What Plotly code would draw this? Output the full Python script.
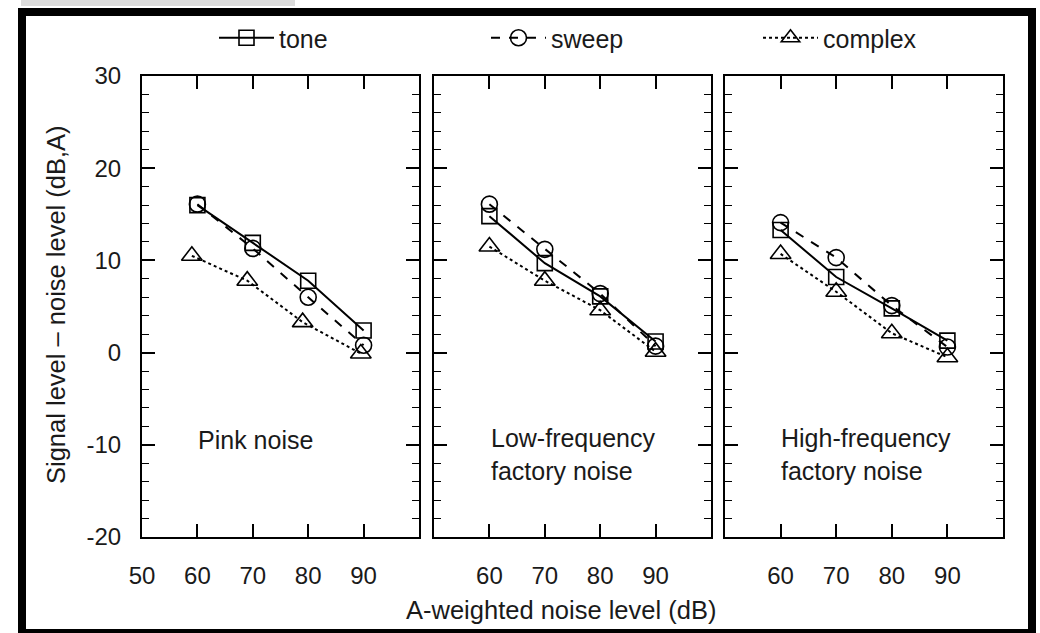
import plotly.graph_objects as go

# ---------------- data ----------------
noise_levels = [60, 70, 80, 90]
complex_x_pink = [59, 69, 79, 89.5]

panels = ["Pink noise", "Low-frequency<br>factory noise", "High-frequency<br>factory noise"]

tone_pink = [16.0, 11.9, 7.8, 2.4]
sweep_pink = [16.1, 11.3, 6.0, 0.8]
complex_pink = [10.5, 7.8, 3.3, -0.1]

tone_low = [14.8, 9.7, 6.1, 1.2]
sweep_low = [16.1, 11.2, 6.4, 0.7]
complex_low = [11.5, 7.8, 4.6, 0.1]

tone_high = [13.3, 8.2, 4.8, 1.3]
sweep_high = [14.1, 10.3, 5.1, 0.6]
complex_high = [10.7, 6.6, 2.1, -0.5]

series_names = ["tone", "sweep", "complex"]
y_ticks = [-20, -10, 0, 10, 20, 30]
y_tick_text = ["-20", "-10", "0", "10", "20", "30"]
x_ticks_first = [50, 60, 70, 80, 90]
x_ticks_other = [60, 70, 80, 90]

x_title = "A-weighted noise level (dB)"
y_title = "Signal level \u2013 noise level (dB,A)"

# ---------------- layout helpers ----------------
W, H = 1040, 633
FONT = "Liberation Sans, Arial, sans-serif"
TXT = "#1a1a1a"


def px_x(v):
    return v / W


def px_y(v):
    return 1 - v / H


domains = [(142, 419), (434, 711), (725, 1003)]
y_dom = [px_y(537), px_y(76)]

styles = {
    "tone": dict(dash="solid", symbol="square-open", size=15),
    "sweep": dict(dash="dash", symbol="circle-open", size=16),
    "complex": dict(dash="dot", symbol="triangle-up-open", size=18),
}

data_sets = [
    (tone_pink, sweep_pink, complex_pink, complex_x_pink),
    (tone_low, sweep_low, complex_low, noise_levels),
    (tone_high, sweep_high, complex_high, noise_levels),
]

fig = go.Figure()

for i, (tone, sweep, cplx, cx) in enumerate(data_sets):
    xa = "x" if i == 0 else f"x{i+1}"
    ya = "y" if i == 0 else f"y{i+1}"
    for name, xs, ys in [("tone", noise_levels, tone), ("sweep", noise_levels, sweep), ("complex", cx, cplx)]:
        st = styles[name]
        fig.add_trace(go.Scatter(
            x=xs, y=ys, xaxis=xa, yaxis=ya, name=name,
            mode="lines+markers",
            line=dict(color="black", width=2, dash=st["dash"]),
            marker=dict(symbol=st["symbol"], size=st["size"], color="black",
                        line=dict(width=1.6, color="black")),
            showlegend=(i == 0),
        ))

axis_common = dict(
    showline=True, linecolor="black", linewidth=2, mirror="ticks",
    ticks="inside", tickcolor="black", tickwidth=1.5,
    showgrid=False, zeroline=False,
    tickfont=dict(family=FONT, size=24, color=TXT),
)

for i, (a, b) in enumerate(domains):
    suffix = "" if i == 0 else str(i + 1)
    fig.update_layout({
        f"xaxis{suffix}": dict(
            axis_common, domain=[px_x(a), px_x(b)], range=[50, 100],
            tickvals=x_ticks_first if i == 0 else x_ticks_other,
            ticklen=13, ticklabelstandoff=16,
            anchor="y" if i == 0 else f"y{i+1}",
        ),
        f"yaxis{suffix}": dict(
            axis_common, domain=y_dom, range=[-20, 30],
            tickvals=y_ticks, ticktext=y_tick_text, ticklen=13,
            minor=dict(dtick=2, ticklen=7, ticks="inside", tickcolor="black", tickwidth=1, showgrid=False),
            showticklabels=(i == 0), ticklabelstandoff=14,
            anchor="x" if i == 0 else f"x{i+1}",
            **({} if i == 0 else {"matches": "y"}),
        ),
    })

annotations = []
label_pos = [(59.8, -9.5), (60.0, -11.1), (59.7, -11.1)]
for i, txt in enumerate(panels):
    suffix = "" if i == 0 else str(i + 1)
    annotations.append(dict(
        text=txt, x=label_pos[i][0], y=label_pos[i][1],
        xref=f"x{suffix}", yref=f"y{suffix}",
        xanchor="left", yanchor="middle", align="left", showarrow=False,
        font=dict(family=FONT, size=25, color=TXT),
    ))

annotations.append(dict(
    text=x_title, x=px_x(561), y=px_y(610), xref="paper", yref="paper",
    xanchor="center", yanchor="middle", showarrow=False,
    font=dict(family=FONT, size=25.5, color=TXT),
))
annotations.append(dict(
    text=y_title, x=px_x(56), y=px_y(305), xref="paper", yref="paper",
    xanchor="center", yanchor="middle", textangle=-90, showarrow=False,
    font=dict(family=FONT, size=25.5, color=TXT),
))

shapes = [
    dict(type="rect", xref="paper", yref="paper",
         x0=px_x(21), x1=px_x(295), y0=px_y(6), y1=px_y(0),
         fillcolor="#dcdcdc", line=dict(width=0), layer="below"),
    dict(type="rect", xref="paper", yref="paper",
         x0=px_x(22), x1=px_x(1032), y0=px_y(633), y1=px_y(12),
         line=dict(color="black", width=8), fillcolor="rgba(0,0,0,0)"),
]

fig.update_layout(
    width=W, height=H,
    margin=dict(l=0, r=0, t=0, b=0, autoexpand=False),
    paper_bgcolor="white", plot_bgcolor="white",
    annotations=annotations, shapes=shapes,
    legend=dict(
        orientation="h", x=px_x(214), y=px_y(38), xanchor="left", yanchor="middle",
        entrywidth=202, entrywidthmode="pixels", itemwidth=55,
        font=dict(family=FONT, size=25, color=TXT),
        bgcolor="rgba(0,0,0,0)",
    ),
)

fig.write_html(
    "out.html",
    config={"displayModeBar": False},
    post_script="document.body.style.margin='0';document.body.style.overflow='hidden';",
)
